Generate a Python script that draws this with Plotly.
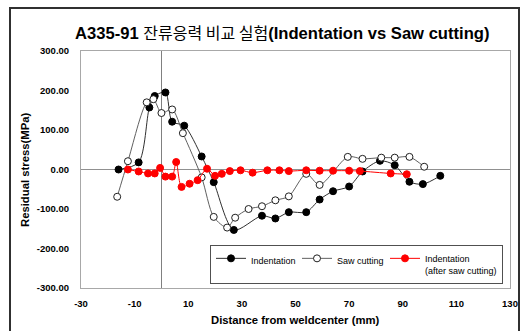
import plotly.graph_objects as go

# ---- data ----
ind_x = [-16, -8.5, -4.5, -2.5, 1.5, 4, 8.5, 15, 19.5, 27, 37.5, 42.5, 47.5, 54, 59, 64, 70, 75, 81.5, 87, 92.5, 97.5, 104]
ind_y = [0, 18, 157, 186, 195, 121, 111, 33, -32, -153, -117, -124, -108, -108, -76, -55, -43, -5, 22, 11, -31, -37, -16]

saw_x = [-16.5, -12.5, -5.5, -3, 0, 4, 8, 15, 19.5, 24.5, 27.5, 32.5, 37.5, 42.5, 47.5, 54, 59, 69.5, 75, 82, 87, 92.5, 98]
saw_y = [-69, 21, 170, 178, 143, 152, 92, -20, -120, -147, -122, -100, -93, -78, -68, -11, -39, 32, 27, 30, 30, 32, 7]

aft_x = [-12.5, -8.5, -5, -2.5, -0.5, 1.5, 4, 5.5, 7.5, 10.5, 13.5, 17, 20, 22.5, 25.5, 29.5, 34, 39.5, 44, 47.5, 54, 59, 64, 70, 74, 85.5, 91.5]
aft_y = [0, -5, -10, -10, 4, -18, -18, 19, -44, -36, -27, 2, -16, -11, -4, -2, -8, -2, -2, -4, -2, -3, -3, -3, -4, -10, -12]

series_names = ["Indentation", "Saw cutting", "Indentation<br>(after saw cutting)"]

x_tick_vals = [-30, -10, 10, 30, 50, 70, 90, 110, 130]
x_tick_text = ["-30", "-10", "10", "30", "50", "70", "90", "110", "130"]
y_tick_vals = [-300, -200, -100, 0, 100, 200, 300]
y_tick_text = ["-300.00", "-200.00", "-100.00", "0.00", "100.00", "200.00", "300.00"]

title_latin1 = "A335-91 "
title_korean = "잔류응력 비교 실험"
title_latin2 = "(Indentation vs Saw cutting)"
x_title = "Distance from weldcenter (mm)"
y_title = "Residual stress(MPa)"

FONT = "Liberation Sans, Arial, Noto Sans CJK KR, sans-serif"
KFONT = "Noto Sans CJK KR, sans-serif"

fig = go.Figure()
fig.add_trace(go.Scatter(
    x=ind_x, y=ind_y, name=series_names[0], mode="lines+markers", legendwidth=41,
    line=dict(color="#303030", width=1, shape="spline", smoothing=0.8),
    marker=dict(symbol="circle", size=7, color="black", line=dict(color="black", width=1)),
))
fig.add_trace(go.Scatter(
    x=saw_x, y=saw_y, name=series_names[1], mode="lines+markers", legendwidth=43,
    line=dict(color="#606060", width=1, shape="spline", smoothing=0.8),
    marker=dict(symbol="circle", size=7, color="white", line=dict(color="#202020", width=1)),
))
fig.add_trace(go.Scatter(
    x=aft_x, y=aft_y, name=series_names[2], mode="lines+markers",
    line=dict(color="red", width=1, shape="spline", smoothing=0.8),
    marker=dict(symbol="circle", size=7, color="red", line=dict(color="red", width=1)),
))

W, H = 522, 331
L, R, T, B = 81, 12, 51, 43

def px_to_paper_x(p):
    return (p - L) / (W - L - R)

def px_to_paper_y(p):
    return (H - B - p) / (H - T - B)

fig.update_layout(
    width=W, height=H,
    margin=dict(l=L, r=R, t=T, b=B, autoexpand=False),
    paper_bgcolor="white", plot_bgcolor="white",
    font=dict(family=FONT, color="black"),
    showlegend=True,
    legend=dict(
        orientation="h", x=px_to_paper_x(210), y=px_to_paper_y(245),
        xanchor="left", yanchor="top",
        bordercolor="#505050", borderwidth=1, bgcolor="white",
        font=dict(size=9, family=FONT, color="black"),
        itemwidth=30, valign="top", tracegroupgap=0,
    ),
    xaxis=dict(
        range=[-30, 130], tickvals=x_tick_vals, ticktext=x_tick_text,
        showgrid=False, zeroline=True, zerolinecolor="#808080", zerolinewidth=1,
        showline=True, mirror=True, linecolor="#a8a8a8", linewidth=1,
        ticks="", tickfont=dict(size=9.5, family=FONT, weight="bold"),
        ticklabelstandoff=7,
    ),
    yaxis=dict(
        range=[-300, 300], tickvals=y_tick_vals, ticktext=y_tick_text,
        showgrid=False, zeroline=True, zerolinecolor="#909090", zerolinewidth=1,
        showline=True, mirror=True, linecolor="#a8a8a8", linewidth=1,
        ticks="", tickfont=dict(size=9.5, family=FONT, weight="bold"),
        ticklabelstandoff=9,
    ),
    annotations=[
        dict(text=(f"<b>{title_latin1}</b>"
                   f"<span style='font-family:{KFONT};font-size:16px'>{title_korean}</span>"
                   f"<b>{title_latin2}</b>"),
             x=px_to_paper_x(282), y=px_to_paper_y(32),
             xref="paper", yref="paper", showarrow=False, xanchor="center", yanchor="middle",
             font=dict(size=16.6, family=FONT, color="black")),
        dict(text=f"<b>{x_title}</b>", x=px_to_paper_x(295), y=px_to_paper_y(320),
             xref="paper", yref="paper", showarrow=False, xanchor="center", yanchor="middle",
             font=dict(size=11.3, family=FONT, color="black")),
        dict(text=f"<b>{y_title}</b>", x=px_to_paper_x(25), y=px_to_paper_y(170),
             xref="paper", yref="paper", showarrow=False, xanchor="center", yanchor="middle",
             textangle=-90, font=dict(size=11.3, family=FONT, color="black")),
    ],
    shapes=[
        dict(type="rect", xref="paper", yref="paper",
             x0=px_to_paper_x(10), x1=px_to_paper_x(519),
             y0=px_to_paper_y(345), y1=px_to_paper_y(8),
             line=dict(color="#303030", width=2), fillcolor="rgba(0,0,0,0)", layer="below"),
    ],
)

fig.write_html("out.html", config={"displayModeBar": False},
               post_script="document.body.style.margin='0';")
